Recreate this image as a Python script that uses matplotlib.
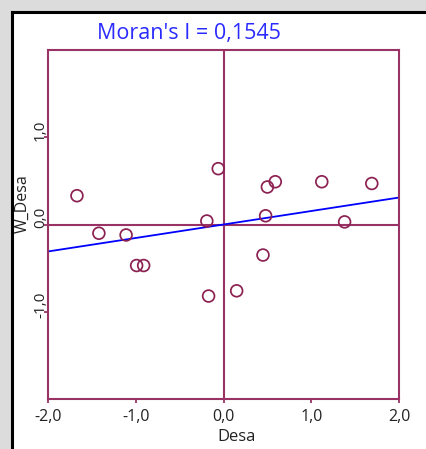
import matplotlib
matplotlib.use("Agg")
import matplotlib.pyplot as plt
import matplotlib.transforms as mtransforms
from matplotlib.patches import Rectangle
import numpy as np

# Data (standardized values)
desa = [-1.67, -1.42, -1.11, -0.99, -0.91, -0.19, -0.17, -0.06, 0.15,
        0.45, 0.48, 0.50, 0.59, 1.12, 1.38, 1.69]
w_desa = [0.33, -0.10, -0.12, -0.47, -0.47, 0.04, -0.82, 0.64, -0.76,
          -0.35, 0.10, 0.43, 0.49, 0.49, 0.03, 0.47]
morans_i = 0.1545
x_ticks = [-2.0, -1.0, 0.0, 1.0, 2.0]
x_ticklabels = ["-2,0", "-1,0", "0,0", "1,0", "2,0"]
y_ticks = [-1.0, 0.0, 1.0]
y_ticklabels = ["-1,0", "0,0", "1,0"]

W, H = 426, 449
fig = plt.figure(figsize=(W / 100, H / 100), dpi=100)
fig.patch.set_facecolor("#dcdcdc")

# white panel with black frame on top/left
fig.patches.append(Rectangle((12 / W, 0), 1 - 12 / W, 1 - 12 / H,
                             transform=fig.transFigure, facecolor="white",
                             edgecolor="none", zorder=-10))
fig.lines.append(plt.Line2D([11.5 / W, 1], [1 - 11.5 / H, 1 - 11.5 / H],
                            transform=fig.transFigure, color="black", lw=2.2,
                            zorder=-5))
fig.lines.append(plt.Line2D([11.5 / W, 11.5 / W], [0, 1 - 11.5 / H],
                            transform=fig.transFigure, color="black", lw=2.2,
                            zorder=-5))

maroon = "#993366"
ax = fig.add_axes([48 / W, (H - 399) / H, 351 / W, 349 / H])
ax.set_zorder(1)
ax.set_facecolor("white")
ax.set_xlim(-2, 2)
ax.set_ylim(-2, 2)

for s in ax.spines.values():
    s.set_color(maroon)
    s.set_linewidth(1.5)

ax.axvline(0, color=maroon, lw=1.5, zorder=1)
ax.axhline(0, color=maroon, lw=1.5, zorder=1)

xs = np.array([-2.0, 2.0])
ax.plot(xs, morans_i * xs, color="#0000ff", lw=1.3, zorder=2)

ax.scatter(desa, w_desa, s=72, facecolors="none", edgecolors="#8b2252",
           linewidths=1.25, zorder=3)

ax.set_xticks(x_ticks)
ax.set_xticklabels(x_ticklabels, fontsize=11.5, family="Open Sans")
ax.set_yticks(y_ticks)
ax.set_yticklabels(y_ticklabels, fontsize=11, family="Open Sans",
                   rotation=90, va="center")
ax.tick_params(axis="both", color=maroon, length=3, width=1.3,
               labelcolor="#222222")
ax.tick_params(axis="x", pad=4)
ax.tick_params(axis="y", pad=-3)

offset = mtransforms.ScaledTranslation(0, 7 / 100, fig.dpi_scale_trans)
for lab in ax.get_yticklabels():
    lab.set_transform(lab.get_transform() + offset)

ax.set_xlabel("Desa", fontsize=12, family="Open Sans", color="#222222",
              va="center")
ax.xaxis.set_label_coords((237 - 48) / 351, -(437 - 399) / 349)
ax.set_ylabel("W_Desa", fontsize=11.5, family="Open Sans", color="#222222",
              va="center")
ax.yaxis.set_label_coords(-(48 - 23) / 351, (399 - 204) / 349)

fig.text(189 / W, 1 - 33 / H, "Moran's I = 0,1545", color="#2b2bff",
         fontsize=15.5, family="Open Sans", ha="center", va="center")

fig.savefig("out.png", dpi=100, facecolor=fig.get_facecolor())
